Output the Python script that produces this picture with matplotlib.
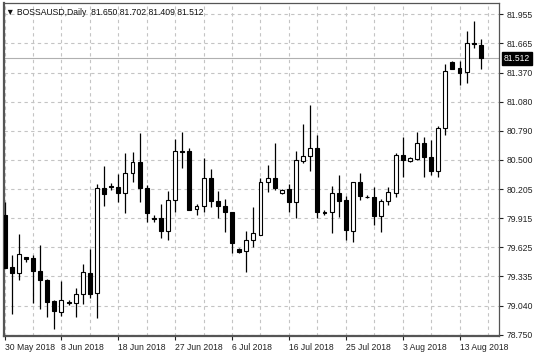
import matplotlib
matplotlib.use("Agg")
import matplotlib.pyplot as plt
import numpy as np

# daily OHLC (bar 0 = 30 May 2018, Sundays included)
opens = [79.95, 79.43, 79.37, 79.53, 79.52, 79.39, 79.30, 79.09, 78.98, 79.08,
         79.07, 79.16, 79.37, 79.17, 80.22, 80.24, 80.23, 80.17, 80.37, 80.48,
         80.22, 79.92, 79.92, 79.79, 80.10, 80.59, 80.59, 80.01, 80.04, 80.32,
         80.09, 80.04, 79.98, 79.61, 79.59, 79.70, 79.75, 80.28, 80.32, 80.17,
         80.21, 80.08, 80.49, 80.54, 80.62, 79.98, 79.98, 80.17, 80.10, 79.79,
         80.28, 80.13, 80.13, 79.94, 80.09, 80.17, 80.55, 80.49, 80.51, 80.67,
         80.53, 80.39, 80.82, 81.48, 81.42, 81.38, 81.67, 81.650]
highs = [80.08, 79.55, 79.76, 79.53, 79.55, 79.65, 79.31, 79.10, 79.29, 79.10,
         79.22, 79.46, 79.61, 80.26, 80.44, 80.27, 80.36, 80.57, 80.58, 80.77,
         80.25, 79.95, 80.06, 80.19, 80.71, 80.78, 80.62, 80.06, 80.52, 80.41,
         80.19, 80.11, 79.98, 79.62, 79.79, 80.03, 80.32, 80.45, 80.67, 80.21,
         80.26, 80.59, 80.86, 81.05, 80.75, 80.00, 80.24, 80.35, 80.14, 80.28,
         80.37, 80.15, 80.23, 80.11, 80.23, 80.57, 80.73, 80.53, 80.78, 80.73,
         80.70, 80.84, 81.46, 81.49, 81.49, 81.79, 81.89, 81.702]
lows = [79.42, 78.96, 79.30, 79.48, 79.07, 79.01, 78.93, 78.81, 78.94, 79.05,
        78.93, 79.06, 79.12, 78.92, 80.04, 80.20, 80.08, 79.97, 80.28, 80.08,
        79.88, 79.88, 79.72, 79.70, 79.98, 80.42, 80.00, 79.95, 79.98, 80.03,
        79.92, 79.78, 79.57, 79.57, 79.38, 79.63, 79.75, 80.18, 80.20, 80.16,
        79.98, 79.92, 80.47, 80.39, 79.92, 79.95, 79.77, 79.93, 79.70, 79.68,
        80.10, 80.12, 79.85, 79.78, 80.05, 80.13, 80.33, 80.48, 80.50, 80.33,
        80.35, 80.33, 80.75, 81.41, 81.25, 81.27, 81.62, 81.409]
closes = [79.42, 79.37, 79.56, 79.51, 79.39, 79.30, 79.08, 78.99, 79.10, 79.07,
          79.16, 79.38, 79.16, 80.22, 80.16, 80.23, 80.17, 80.37, 80.48, 80.22,
          79.97, 79.91, 79.79, 80.10, 80.59, 80.58, 80.00, 80.04, 80.32, 80.09,
          80.04, 79.98, 79.67, 79.58, 79.70, 79.77, 80.28, 80.32, 80.22, 80.20,
          80.08, 80.50, 80.54, 80.62, 79.98, 79.97, 80.17, 80.09, 79.80, 80.28,
          80.14, 80.13, 79.94, 80.09, 80.18, 80.55, 80.50, 80.52, 80.67, 80.53,
          80.39, 80.82, 81.39, 81.41, 81.37, 81.67, 81.66, 81.512]

date_labels = ["30 May 2018", "8 Jun 2018", "18 Jun 2018", "27 Jun 2018",
               "6 Jul 2018", "16 Jul 2018", "25 Jul 2018", "3 Aug 2018",
               "13 Aug 2018"]
price_ticks = [81.955, 81.665, 81.370, 81.080, 80.790, 80.500, 80.205,
               79.915, 79.625, 79.335, 79.040, 78.750]
symbol = "BOSSAUSD,Daily"
last_price = 81.512

plt.rcParams['font.family'] = ['Liberation Sans', 'DejaVu Sans']

o = np.array(opens)
h = np.array(highs)
l = np.array(lows)
c = np.array(closes)
x = np.arange(len(o))

fig = plt.figure(figsize=(5.36, 3.58), dpi=100)
ax = fig.add_axes([3.5 / 536, 22 / 358, 495.5 / 536, 333 / 358])

# wicks then bodies
ax.vlines(x, l, h, color='black', linewidth=0.9, zorder=2)
up = c >= o
body_bottom = np.minimum(o, c)
body_height = np.abs(c - o)
ax.bar(x, body_height, bottom=body_bottom, width=0.55,
       color=np.where(up, 'white', 'black'), edgecolor='black',
       linewidth=0.8, zorder=3)

# bid line
ax.axhline(last_price, color='#b0b0b0', linewidth=0.8, zorder=1)

ax.set_xlim(-0.15, 69.55)
ax.set_ylim(78.74, 82.065)

ax.set_xticks(np.arange(0, 8 * len(date_labels), 8))
ax.set_xticklabels(date_labels, ha='left')
ax.set_xticks(np.arange(0, 70, 4), minor=True)
ax.set_yticks(price_ticks)
ax.set_yticklabels([f"{p:.3f}" for p in price_ticks])
ax.yaxis.tick_right()

ax.grid(True, which='both', linestyle=(0, (3, 3)), color='#c4c4c4',
        linewidth=0.8, zorder=0)
ax.set_axisbelow(True)
ax.tick_params(axis='x', which='major', length=3, pad=2, labelsize=6.2,
               colors='#222222')
ax.tick_params(axis='x', which='minor', length=0)
ax.tick_params(axis='y', length=3, pad=2.5, labelsize=6.2, colors='#222222')

for side in ['top', 'right', 'left', 'bottom']:
    ax.spines[side].set_color('#555555')
ax.spines['left'].set_linewidth(1.6)
ax.spines['bottom'].set_linewidth(1.6)
ax.spines['top'].set_linewidth(0.9)
ax.spines['right'].set_linewidth(0.9)

header = "\u25bc {}  {:.3f} {:.3f} {:.3f} {:.3f}".format(
    symbol, opens[-1], highs[-1], lows[-1], closes[-1])
ax.text(0.006, 0.985, header, transform=ax.transAxes, ha='left', va='top',
        fontsize=6.2, color='#111111')

ax.annotate(f"{last_price:.3f}", xy=(1, last_price),
            xycoords=ax.get_yaxis_transform(), xytext=(3.5, 0),
            textcoords='offset points', ha='left', va='center',
            fontsize=6.2, color='white', annotation_clip=False,
            bbox=dict(boxstyle='square,pad=0.25', facecolor='black',
                      edgecolor='black'))

fig.savefig("out.png", dpi=100, facecolor='white')
